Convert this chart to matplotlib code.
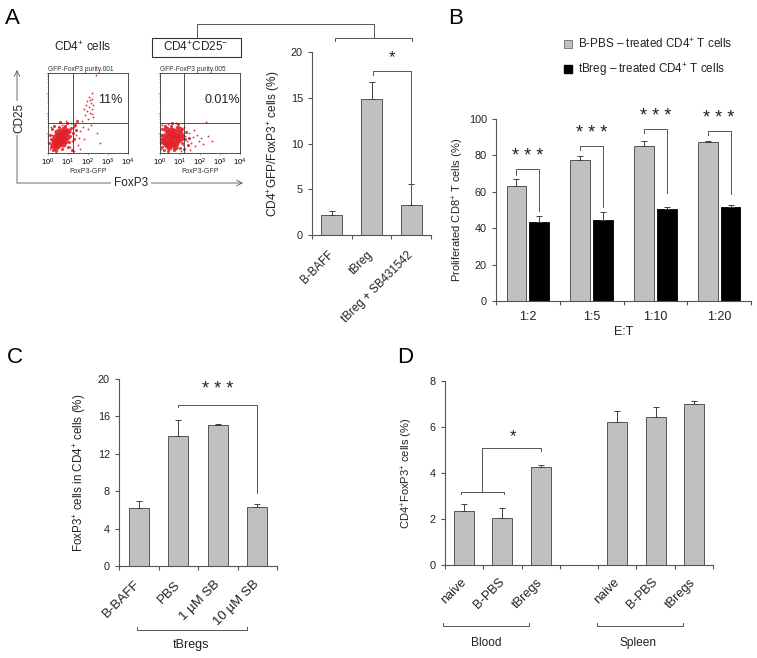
import numpy as np
import matplotlib
matplotlib.use('Agg')
import matplotlib.pyplot as plt
from matplotlib.lines import Line2D
from matplotlib.patches import Rectangle

plt.rcParams['font.family'] = ['Liberation Sans', 'DejaVu Sans']
plt.rcParams['mathtext.fontset'] = 'custom'
plt.rcParams['mathtext.rm'] = 'Liberation Sans'
plt.rcParams['mathtext.it'] = 'Liberation Sans:italic'
plt.rcParams['mathtext.bf'] = 'Liberation Sans:bold'

W, H = 757, 658
GREY = '#c0c0c0'
EDGE = '#404040'
AX_C = '#555555'
TXT = '#222222'

# ---- panel A, flow plots (log10 coordinates) ----
flow1_core = [(0.45, 0.65), (0.55, 0.75), (0.65, 0.85), (0.75, 0.7), (0.6, 0.55), (0.5, 0.9),
              (0.7, 1.0), (0.8, 0.9), (0.4, 0.5), (0.85, 0.6), (0.35, 0.8), (0.6, 1.1),
              (0.9, 1.05), (0.3, 0.6), (0.5, 0.4), (0.75, 0.45), (0.95, 0.8), (0.45, 1.05),
              (0.65, 0.65), (0.55, 0.55), (1.0, 1.1), (0.25, 0.4), (0.8, 1.2), (0.4, 0.3)]
flow1_halo = [(0.05, 0.5), (0.1, 0.9), (0.15, 0.3), (0.2, 1.2), (0.25, 0.15), (0.3, 1.35),
              (0.4, 0.1), (0.55, 1.3), (0.7, 0.2), (0.85, 1.35), (1.0, 0.3), (1.05, 0.55),
              (1.1, 0.85), (1.15, 1.25), (1.25, 1.0), (1.2, 0.15), (0.95, 1.5), (0.6, 1.55),
              (0.15, 0.7), (1.3, 0.7), (1.35, 1.4), (1.45, 1.6), (1.4, 1.15), (0.3, 0.2)]
flow1_sparse = [(0.1, 0.2), (0.15, 1.3), (0.2, 0.9), (1.1, 0.3), (1.2, 0.6), (1.3, 1.3),
                (1.15, 1.5), (1.4, 0.9), (1.5, 0.4), (1.6, 1.1), (1.7, 1.6), (1.8, 0.7),
                (1.85, 1.9), (1.95, 2.1), (2.0, 1.7), (2.05, 2.3), (2.1, 2.0), (2.15, 2.5),
                (2.2, 2.2), (1.95, 2.6), (2.2, 2.7), (1.9, 2.4), (2.05, 2.8), (2.25, 1.8),
                (2.15, 1.4), (2.4, 3.9), (2.45, 1.0), (2.6, 0.5), (1.3, 0.1), (0.9, 1.6),
                (0.7, 1.4), (2.2, 3.0), (2.0, 1.2), (1.6, 0.2), (2.25, 2.4), (1.8, 2.2),
                (2.1, 2.65), (2.2, 1.95), (1.75, 1.3), (1.55, 0.75)]

flow2_core = [(0.3, 0.7), (0.45, 0.85), (0.6, 0.95), (0.75, 0.8), (0.55, 0.6), (0.4, 1.0),
              (0.7, 1.1), (0.85, 0.9), (0.25, 0.5), (0.9, 0.65), (0.2, 0.85), (0.55, 1.15),
              (1.0, 1.0), (0.35, 0.4), (0.65, 0.45), (0.8, 0.5), (1.05, 0.75), (0.45, 0.3),
              (0.15, 0.6), (0.6, 0.75), (0.95, 1.2), (0.3, 1.2), (0.75, 0.3), (0.5, 0.5)]
flow2_halo = [(0.02, 0.5), (0.05, 0.9), (0.1, 0.3), (0.1, 1.2), (0.2, 0.15), (0.25, 1.35),
              (0.4, 0.1), (0.55, 1.35), (0.7, 0.15), (0.85, 1.3), (1.0, 0.25), (1.1, 0.5),
              (1.15, 0.9), (1.1, 1.2), (1.25, 0.7), (1.3, 1.05), (0.9, 1.45), (0.6, 1.5),
              (1.4, 0.4), (1.45, 0.75), (0.05, 0.7), (1.2, 0.2)]
flow2_sparse = [(0.05, 0.2), (0.1, 1.4), (1.15, 0.4), (1.25, 0.85), (1.35, 0.6), (1.45, 1.0),
                (1.55, 0.5), (1.65, 0.8), (1.75, 0.35), (1.85, 0.9), (1.95, 0.6), (2.05, 0.75),
                (2.15, 0.45), (2.3, 1.55), (2.4, 0.85), (1.2, 1.3), (0.8, 1.5), (1.5, 0.15),
                (1.05, 0.1), (2.6, 0.6), (0.4, 1.45), (1.7, 1.15)]

flow_titles = ['GFP-FoxP3 purity.001', 'GFP-FoxP3 purity.005']
flow_pct = ['11%', '0.01%']
flow_gate_x = [1.25, 1.2]
flow_gate_y = [1.5, 1.5]

# ---- panel A, bar chart ----
a_labels = ['B-BAFF', 'tBreg', 'tBreg + SB431542']
a_vals = [2.2, 14.9, 3.3]
a_err = [0.4, 1.8, 2.3]

# ---- panel B ----
b_groups = ['1:2', '1:5', '1:10', '1:20']
b_pbs = [63.0, 77.5, 85.3, 87.5]
b_pbs_err = [3.9, 2.2, 2.6, 0.3]
b_treg = [43.5, 44.5, 50.3, 51.8]
b_treg_err = [3.0, 4.3, 1.4, 1.0]
b_sig_top = [72.5, 85.3, 94.4, 93.4]
b_sig_left = [69.5, 83.0, 92.3, 91.2]
b_sig_right = [49.6, 51.6, 59.3, 59.0]

# ---- panel C ----
c_labels = ['B-BAFF', 'PBS', '1 µM SB', '10 µM SB']
c_vals = [6.2, 13.9, 15.1, 6.3]
c_err = [0.7, 1.7, 0.1, 0.3]

# ---- panel D ----
d_labels = ['naive', 'B-PBS', 'tBregs', '', 'naive', 'B-PBS', 'tBregs']
d_pos = [0, 1, 2, 4, 5, 6]
d_vals = [2.35, 2.03, 4.28, 6.23, 6.42, 7.0]
d_err = [0.3, 0.47, 0.07, 0.48, 0.44, 0.14]

fig = plt.figure(figsize=(W / 100, H / 100), dpi=100)


def px_axes(x0, y0, x1, y1):
    return fig.add_axes([x0 / W, 1 - y1 / H, (x1 - x0) / W, (y1 - y0) / H])


def style_bars(ax, n, ymax, yticks, xsize):
    ax.set_xlim(-0.5, n - 0.5)
    ax.set_ylim(0, ymax)
    ax.set_yticks(yticks)
    for s in ['top', 'right']:
        ax.spines[s].set_visible(False)
    for s in ['left', 'bottom']:
        ax.spines[s].set_color(AX_C)
        ax.spines[s].set_linewidth(0.8)
    ax.set_xticks(np.arange(-0.5, n), minor=True)
    ax.tick_params(axis='x', which='minor', length=3, color=AX_C, width=0.8)
    ax.tick_params(axis='x', which='major', length=0, labelsize=xsize, labelcolor=TXT)
    ax.tick_params(axis='y', length=3, color=AX_C, width=0.8, labelsize=7.8, labelcolor=TXT)


def bracket(ax, x1, x2, y, y1, y2):
    ax.plot([x1, x1, x2, x2], [y1, y, y, y2], color=AX_C, lw=0.7, clip_on=False)


def err(ax, x, v, e):
    ax.errorbar(x, v, yerr=[np.zeros(len(e)), e], fmt='none', ecolor=EDGE,
                elinewidth=0.7, capsize=2, capthick=0.7)


# ---- flow plots ----
flow_sets = [(flow1_core, flow1_halo, flow1_sparse), (flow2_core, flow2_halo, flow2_sparse)]
for i, (x0, sets) in enumerate(zip([48, 160], flow_sets)):
    ax = px_axes(x0, 73, x0 + 80, 153)
    for pts, size in zip(sets, [20, 5, 1.8]):
        p = np.array(pts)
        ax.scatter(10 ** p[:, 0], 10 ** p[:, 1], s=size, c='#e3202a', lw=0, alpha=0.9)
    ax.set_xscale('log')
    ax.set_yscale('log')
    ax.set_xlim(1, 1e4)
    ax.set_ylim(1, 1e4)
    ax.axvline(10 ** flow_gate_x[i], color='#333333', lw=0.6)
    ax.axhline(10 ** flow_gate_y[i], color='#333333', lw=0.6)
    ax.set_xticks([1, 10, 100, 1000, 10000])
    ax.set_xticklabels(['$10^{0}$', '$10^{1}$', '$10^{2}$', '$10^{3}$', '$10^{4}$'])
    ax.set_yticks([1, 10, 100, 1000, 10000])
    ax.set_yticklabels([])
    ax.tick_params(which='both', length=1.5, width=0.4, color='#888888', labelsize=5.5, pad=1)
    ax.tick_params(axis='y', which='minor', length=1, width=0.4, color='#888888')
    for s in ax.spines.values():
        s.set_linewidth(0.6)
        s.set_color('#333333')
    ax.set_xlabel('FoxP3-GFP', fontsize=5, labelpad=0, color='#333333')
    ax.set_title(flow_titles[i], fontsize=4.8, loc='left', pad=1.5, color='#333333')
    ax.text(0.78, 0.66, flow_pct[i], transform=ax.transAxes, fontsize=9, ha='center',
            va='center', color=TXT)

# ---- panel A bars ----
axA = px_axes(312, 52, 431, 235)
xa = np.arange(len(a_vals))
axA.bar(xa, a_vals, width=0.53, color=GREY, edgecolor=EDGE, lw=0.6)
err(axA, xa, a_vals, a_err)
style_bars(axA, 3, 20, [0, 5, 10, 15, 20], 8.3)
axA.set_xticks(xa)
axA.set_xticklabels(a_labels, rotation=45, ha='right', va='center', rotation_mode='anchor')
axA.tick_params(axis='x', which='major', pad=13)
axA.set_ylabel('CD4$^{+}$GFP/FoxP3$^{+}$ cells (%)', fontsize=8.6, color=TXT)
axA.yaxis.set_label_coords(-0.252, 0.5)
bracket(axA, 1.04, 1.99, 17.9, 17.5, 3.7)
axA.text(1.52, 19.4, '*', fontsize=12, ha='center', va='center', color=TXT)

# ---- panel B ----
axB = px_axes(496, 119, 751, 301)
xb = np.arange(len(b_groups))
off = 0.18
axB.bar(xb - off, b_pbs, width=0.31, color=GREY, edgecolor=EDGE, lw=0.6)
axB.bar(xb + off, b_treg, width=0.31, color='black', edgecolor='black', lw=0.6)
err(axB, xb - off, b_pbs, b_pbs_err)
err(axB, xb + off, b_treg, b_treg_err)
style_bars(axB, 4, 100, [0, 20, 40, 60, 80, 100], 9)
axB.set_xticks(xb)
axB.set_xticklabels(b_groups)
axB.tick_params(axis='x', which='major', pad=7)
axB.set_xlabel('E:T', fontsize=9, labelpad=2.5, color=TXT)
axB.set_ylabel('Proliferated CD8$^{+}$ T cells (%)', fontsize=8, color=TXT)
axB.yaxis.set_label_coords(-0.118, 0.5)
for i in range(4):
    bracket(axB, xb[i] - off, xb[i] + off, b_sig_top[i], b_sig_left[i], b_sig_right[i])
    axB.text(xb[i], b_sig_top[i] + 7, '* * *', fontsize=13, ha='center', va='center',
             color=TXT)
handles = [Line2D([], [], marker='s', ls='none', ms=6, mfc=GREY, mec=AX_C, mew=0.5),
           Line2D([], [], marker='s', ls='none', ms=6, mfc='black', mec='black')]
fig.legend(handles, ['B-PBS – treated CD4$^{+}$ T cells', 'tBreg – treated CD4$^{+}$ T cells'],
           loc='upper left', bbox_to_anchor=(553 / W, 1 - 27 / H), frameon=False,
           fontsize=8.4, handlelength=0.8, handletextpad=0.4, labelspacing=0.85,
           labelcolor=TXT)

# ---- panel C ----
axC = px_axes(119, 379, 277, 566)
xc = np.arange(len(c_vals))
axC.bar(xc, c_vals, width=0.5, color=GREY, edgecolor=EDGE, lw=0.6)
err(axC, xc, c_vals, c_err)
style_bars(axC, 4, 20, [0, 4, 8, 12, 16, 20], 9.5)
axC.set_xticks(xc)
axC.set_xticklabels(c_labels, rotation=45, ha='right', va='center', rotation_mode='anchor')
axC.tick_params(axis='x', which='major', pad=12)
axC.set_ylabel('FoxP3$^{+}$ cells in CD4$^{+}$ cells (%)', fontsize=8.4, color=TXT)
axC.yaxis.set_label_coords(-0.196, 0.5)
bracket(axC, 1, 3, 17.25, 17.0, 7.86)
axC.text(2, 18.9, '* * *', fontsize=13, ha='center', va='center', color=TXT)
bracket(axC, -0.05, 2.75, -6.85, -6.55, -6.55)
axC.text(1.33, -8.5, 'tBregs', fontsize=9, ha='center', va='center', color=TXT)

# ---- panel D ----
axD = px_axes(445, 381, 713, 565)
axD.bar(d_pos, d_vals, width=0.52, color=GREY, edgecolor=EDGE, lw=0.6)
err(axD, d_pos, d_vals, d_err)
style_bars(axD, 7, 8, [0, 2, 4, 6, 8], 9.2)
axD.set_xticks(np.arange(7))
axD.set_xticklabels(d_labels, rotation=45, ha='right', va='center', rotation_mode='anchor')
axD.tick_params(axis='x', which='major', pad=11)
axD.set_ylabel('CD4$^{+}$FoxP3$^{+}$ cells (%)', fontsize=8, color=TXT)
axD.yaxis.set_label_coords(-0.112, 0.5)
bracket(axD, -0.08, 1.03, 3.19, 3.07, 3.07)
axD.plot([0.47, 0.47], [3.19, 5.07], color=AX_C, lw=0.7)
bracket(axD, 0.47, 2.0, 5.07, 5.07, 4.96)
axD.text(1.28, 5.6, '*', fontsize=12, ha='center', va='center', color=TXT)
bracket(axD, -0.55, 1.69, -2.65, -2.5, -2.5)
bracket(axD, 3.47, 5.71, -2.65, -2.5, -2.5)
axD.text(0.57, -3.4, 'Blood', fontsize=8.6, ha='center', va='center', color=TXT)
axD.text(4.54, -3.4, 'Spleen', fontsize=8.6, ha='center', va='center', color=TXT)

# ---- overlay: letters, arrows, connectors (pixel coords) ----
ov = fig.add_axes([0, 0, 1, 1])
ov.set_xlim(0, W)
ov.set_ylim(H, 0)
ov.axis('off')
for letter, x, y in [('A', 5, 8), ('B', 448, 8), ('C', 7, 347), ('D', 397, 347)]:
    ov.text(x, y, letter, fontsize=16, ha='left', va='top', color='black')
arr = dict(arrowstyle='->', lw=0.6, color='#555555', shrinkA=0, shrinkB=0)
ov.annotate('', xy=(17, 70), xytext=(17, 183), arrowprops=arr)
ov.annotate('', xy=(243, 183), xytext=(17, 183), arrowprops=arr)
ov.text(19, 118, 'CD25', rotation=90, ha='center', va='center', fontsize=8.5, color=TXT,
        bbox=dict(fc='white', ec='none', pad=1.5), zorder=5)
ov.text(131, 183, 'FoxP3', ha='center', va='center', fontsize=8.5, color=TXT,
        bbox=dict(fc='white', ec='none', pad=2), zorder=5)
ov.text(83, 47, 'CD4$^{+}$ cells', ha='center', va='center', fontsize=8.5, color=TXT)
ov.add_patch(Rectangle((152, 38), 89, 19, fill=False, ec='#333333', lw=0.8))
ov.text(196, 47.5, 'CD4$^{+}$CD25$^{-}$', ha='center', va='center', fontsize=8.5, color=TXT)
ov.plot([197, 197, 374, 374], [38, 24, 24, 38], color=AX_C, lw=0.7)
ov.plot([335, 335, 412, 412], [41, 38, 38, 41], color=AX_C, lw=0.7)

fig.savefig('out.png', dpi=100)
